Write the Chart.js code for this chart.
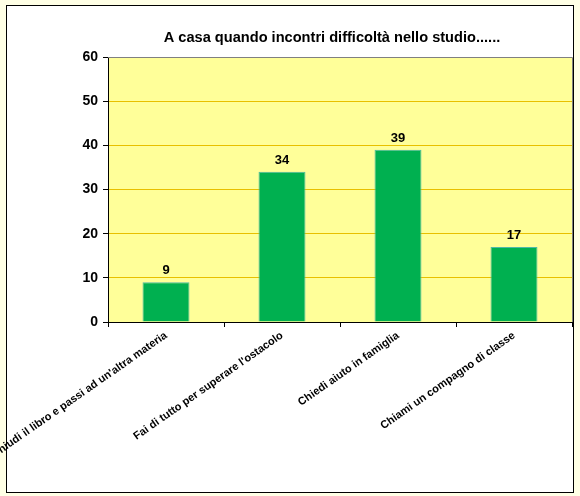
<!DOCTYPE html>
<html>
<head>
<meta charset="utf-8">
<script src="https://cdn.jsdelivr.net/npm/chart.js@4/dist/chart.umd.min.js"></script>
<style>
  html, body { margin: 0; padding: 0; background: #FFFFE5; }
  #wrap { width: 580px; height: 496px; position: relative; }
</style>
</head>
<body>
<div id="wrap"><canvas id="grafico" width="580" height="496"></canvas></div>
<script>
// dati
const categorie = [
  "Chiudi il libro e passi ad un'altra materia",
  "Fai di tutto per superare l'ostacolo",
  "Chiedi aiuto in famiglia",
  "Chiami un compagno di classe"
];
const risposte = [9, 34, 39, 17];
const titolo = "A casa quando incontri difficoltà nello studio......";
const yMin = 0, yMax = 60, yStep = 10;

const FONT = "'Liberation Sans', Arial, sans-serif";

// sfondo, cornice e area gialla
const sfondo = {
  id: "sfondo",
  beforeDraw(chart) {
    const ctx = chart.ctx;
    const a = chart.chartArea;
    ctx.save();
    ctx.fillStyle = "#FFFFE5";
    ctx.fillRect(0, 0, chart.width, chart.height);
    ctx.fillStyle = "#FFFFFF";
    ctx.fillRect(6.5, 5.5, 567, 487);
    ctx.strokeStyle = "#000000";
    ctx.lineWidth = 1;
    ctx.strokeRect(6.5, 5.5, 567, 487);
    ctx.fillStyle = "#FFFF99";
    ctx.fillRect(a.left, a.top, a.right - a.left, a.bottom - a.top);
    ctx.restore();
  },
  afterDraw(chart) {
    const ctx = chart.ctx;
    const a = chart.chartArea;
    ctx.save();
    // bordo destro e superiore grigio
    ctx.strokeStyle = "#808080";
    ctx.lineWidth = 1;
    ctx.beginPath();
    ctx.moveTo(a.left, a.top + 0.5);
    ctx.lineTo(a.right + 0.5, a.top + 0.5);
    ctx.lineTo(a.right + 0.5, a.bottom);
    ctx.stroke();
    // titolo
    ctx.fillStyle = "#000";
    ctx.font = "bold 14.6px " + FONT;
    ctx.textAlign = "center";
    ctx.textBaseline = "middle";
    ctx.fillText(titolo, (a.left + a.right) / 2 - 8, 38);
    // etichette valori
    ctx.font = "bold 13px " + FONT;
    ctx.textBaseline = "bottom";
    const meta = chart.getDatasetMeta(0);
    meta.data.forEach((bar, i) => {
      ctx.fillText(String(risposte[i]), bar.x, bar.y - 5);
    });
    ctx.restore();
  }
};

new Chart(document.getElementById("grafico"), {
  type: "bar",
  data: {
    labels: categorie,
    datasets: [
      {
        data: risposte,
        backgroundColor: "#00B050",
        borderColor: "#4FB8A8",
        borderWidth: 1,
        borderSkipped: "bottom",
        categoryPercentage: 1,
        barPercentage: 0.405,
      },
    ],
  },
  options: {
    responsive: false,
    animation: false,
    devicePixelRatio: 1,
    layout: { padding: { top: 57, right: 8, left: 0, bottom: 0 } },
    plugins: {
      legend: { display: false },
      title: { display: false },
      tooltip: { enabled: false },
    },
    scales: {
      x: {
        offset: true,
        grid: {
          offset: true,
          drawOnChartArea: false,
          drawTicks: true,
          tickLength: 5,
          tickColor: "#000",
        },
        border: { color: "#000", width: 1 },
        ticks: {
          color: "#000",
          font: { family: FONT, size: 11, weight: "bold" },
          maxRotation: 35,
          minRotation: 35,
          autoSkip: false,
          padding: 2,
        },
        afterFit(s) {
          s.height = 174;
          s.paddingLeft = 0;
          s.paddingRight = 0;
        },
      },
      y: {
        min: yMin,
        max: yMax,
        grid: {
          color: (c) => (c.tick && c.tick.value === yMax ? "#808080" : "#E8C000"),
          tickColor: "#000",
          tickLength: 5,
        },
        border: { color: "#000", width: 1 },
        ticks: {
          stepSize: yStep,
          color: "#000",
          font: { family: FONT, size: 14, weight: "bold" },
          padding: 5,
        },
        afterFit(s) {
          s.width = 108;
        },
      },
    },
  },
  plugins: [sfondo],
});
</script>
</body>
</html>
